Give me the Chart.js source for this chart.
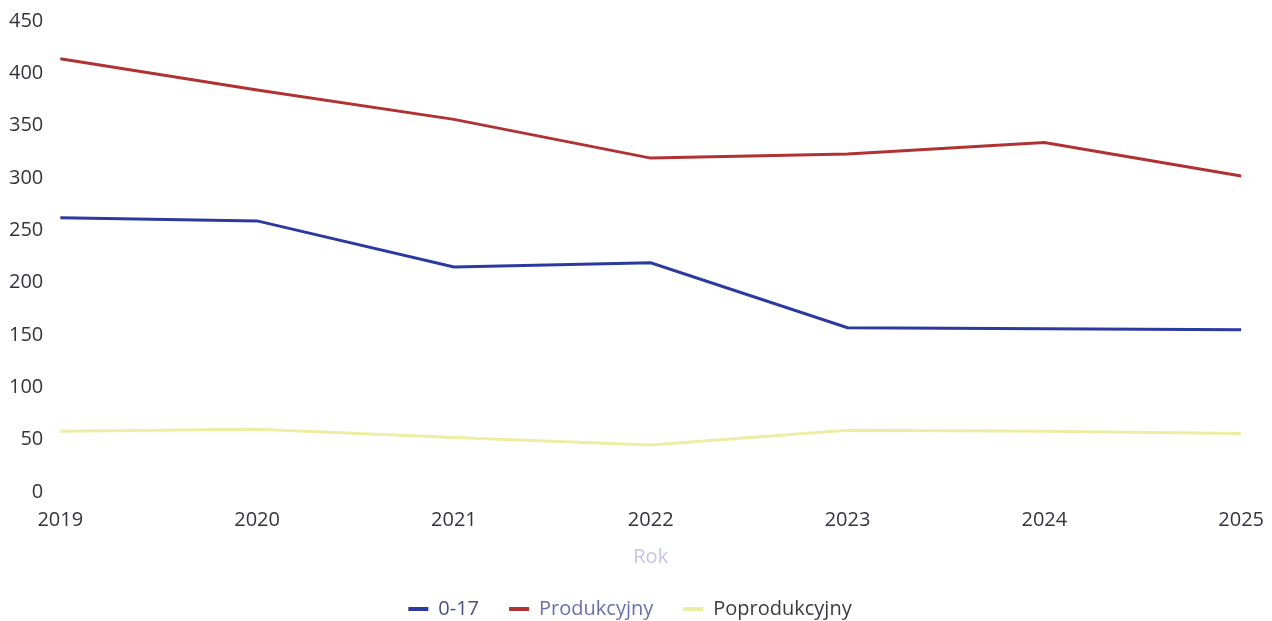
<!DOCTYPE html>
<html>
<head>
<meta charset="utf-8">
<script src="https://cdn.jsdelivr.net/npm/chart.js@4.4.1/dist/chart.umd.min.js"></script>
<style>
  html, body { margin: 0; padding: 0; background: #fff; }
  #wrap { width: 1272px; height: 621px; }
</style>
</head>
<body>
<div id="wrap"><canvas id="chart"></canvas></div>
<script>
// data
let years = ["2019", "2020", "2021", "2022", "2023", "2024", "2025"];
let age017 = [262, 259, 215, 219, 157, 156, 155];
let produkcyjny = [414, 384, 356, 319, 323, 334, 302];
let poprodukcyjny = [58, 60, 52, 45, 59, 58, 56];
let yTicks = [0, 50, 100, 150, 200, 250, 300, 350, 400, 450];
let legendColors = ["#4a5082", "#6a70b0", "#3a3a44"];

let font = "'Open Sans', sans-serif";

new Chart(document.getElementById("chart"), {
  type: "line",
  data: {
    labels: years,
    datasets: [
      {
        label: "0-17",
        data: age017,
        borderColor: "#2b3a9e",
        backgroundColor: "#2b3a9e",
        borderWidth: 3,
        pointRadius: 0,
        tension: 0,
      },
      {
        label: "Produkcyjny",
        data: produkcyjny,
        borderColor: "#b03232",
        backgroundColor: "#b03232",
        borderWidth: 3,
        pointRadius: 0,
        tension: 0,
      },
      {
        label: "Poprodukcyjny",
        data: poprodukcyjny,
        borderColor: "#eceea4",
        backgroundColor: "#eceea4",
        borderWidth: 3,
        pointRadius: 0,
        tension: 0,
      },
    ],
  },
  options: {
    responsive: true,
    maintainAspectRatio: false,
    animation: false,
    layout: { padding: { top: 7, right: 12, left: 0, bottom: -8 } },
    scales: {
      x: {
        offset: false,
        grid: { display: false },
        border: { display: false },
        ticks: { color: "#33343f", font: { family: font, size: 20 }, padding: 8, maxRotation: 0 },
        title: { display: true, text: "Rok", color: "#c4c4ec", font: { family: font, size: 20 }, padding: { top: 5, bottom: 0 } },
      },
      y: {
        min: 0,
        max: 450,
        afterBuildTicks: (axis) => {
          axis.ticks = yTicks.map((v) => ({ value: v }));
        },
        grid: { display: false },
        border: { display: false },
        ticks: { color: "#33343f", font: { family: font, size: 20 }, padding: 9 },
      },
    },
    plugins: {
      legend: {
        position: "bottom",
        labels: {
          font: { family: font, size: 20 },
          boxWidth: 20,
          boxHeight: 4,
          padding: 30,
          generateLabels: (chart) => {
            let items = Chart.defaults.plugins.legend.labels.generateLabels(chart);
            items.forEach((item, i) => {
              item.fontColor = legendColors[i];
              item.lineWidth = 0;
            });
            return items;
          },
        },
      },
      tooltip: { enabled: false },
    },
  },
});
</script>
</body>
</html>
